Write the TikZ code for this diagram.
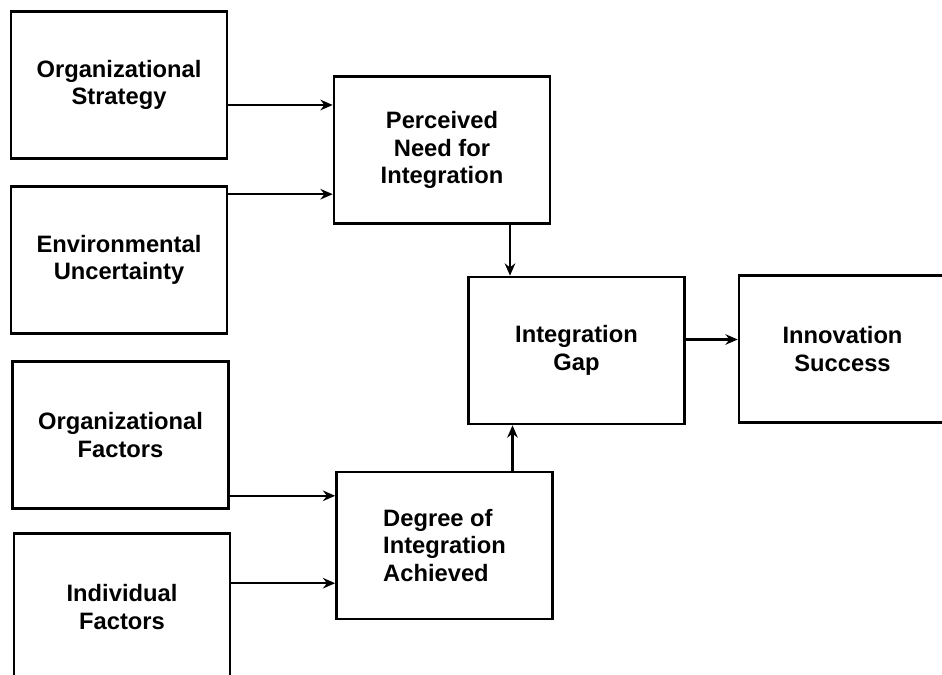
\documentclass[tikz,border=0pt]{standalone}
\usepackage{fontspec}
\setmainfont{Liberation Sans}
\usetikzlibrary{arrows.meta}

\tikzset{
  factor/.style={draw, line width=1.5pt, minimum width=4.32cm, minimum height=2.94cm,
    inner sep=0pt, align=center, font=\fontsize{13.5}{15.6}\selectfont\bfseries},
  flow/.style={line width=1.4pt, -{Stealth[length=7pt, width=6pt]}},
}

\begin{document}
\begin{tikzpicture}[x=0.02cm, y=-0.02cm]
\useasboundingbox (0,0) rectangle (942,675);
\clip (0,0) rectangle (942,675);

% Define nodes
\path
(119,85) node[factor] (strat) {Organizational\\Strategy}
(119,260) node[factor] (envunc) {Environmental\\Uncertainty}
(120.5,435) node[factor] (orgfac) {Organizational\\Factors}
(122,607) node[factor] (indfac) {Individual\\Factors}
(442,150) node[factor] (need) {Perceived\\Need for\\Integration}
(444.5,545.5) node[factor, align=left] (degree) {Degree of\\Integration\\Achieved}
(576.5,350.5) node[factor] (gap) {Integration\\Gap}
(842.5,349) node[factor, minimum width=4.14cm] (success) {Innovation\\Success}
;

% Connectors
\draw[flow] (strat.east) ++(0,20) coordinate (a1) -- (a1 -| need.west);
\draw[flow] (envunc.north east) ++(0,9) coordinate (a2) -- (a2 -| need.west);
\draw[flow] (orgfac.south east) ++(0,-14) coordinate (a3) -- (a3 -| degree.west);
\draw[flow] (indfac.north east) ++(0,51) coordinate (a4) -- (a4 -| degree.west);
\draw[flow] (need.south) ++(68,0) coordinate (a5) -- (a5 |- gap.north);
\draw[flow] (degree.north) ++(68,0) coordinate (a6) -- (a6 |- gap.south);
\draw[flow] (gap.east) ++(0,-11) coordinate (a7) -- (a7 -| success.west);

\end{tikzpicture}
\end{document}
